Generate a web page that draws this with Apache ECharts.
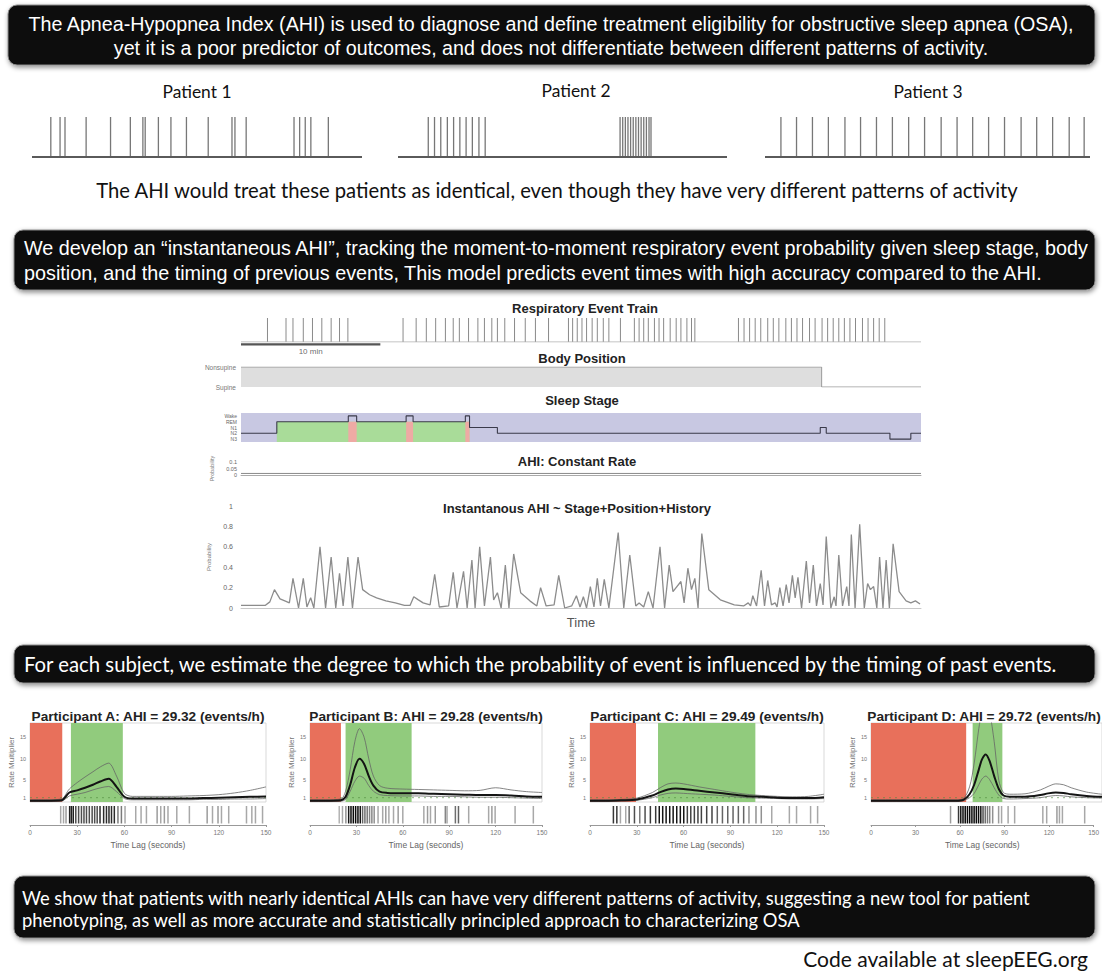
<!DOCTYPE html>
<html><head><meta charset="utf-8">
<script src="https://cdn.jsdelivr.net/npm/echarts@6/dist/echarts.min.js"></script>
<style>html,body{margin:0;padding:0;background:#fff}#c{width:1102px;height:971px}</style>
</head><body><div id="c"></div>
<script>
// ---------------- DATA ----------------
const patientNames = ['Patient 1','Patient 2','Patient 3'];
const patient1Events = [5.7,8.5,10,16.4,23.8,29.8,33.6,34.3,38.3,42.1,46.8,53.4,60.6,61.5,64.9,79.4,81.1,82.8,84.5,89.8];
const patient2Events = [9.2,11.1,13.0,15.0,16.9,18.8,20.7,22.6,24.6,26.5,67.5,68.3,69.1,69.9,70.7,71.5,72.3,73.1,73.9,74.7,75.5,76.3,76.9];
const patient3Events = [4.9,9.7,14.6,19.5,24.6,29.4,34.3,39.2,44.2,49.1,54.2,59.1,63.9,68.8,73.7,78.8,83.6,88.5,93.6,98.2];

const trainEvents = [1.9,3.23,3.73,4.47,5.13,5.8,6.47,7.07,7.67,
 11.63,12.57,13.3,13.97,14.67,15.23,15.67,16.33,17.0,17.47,18.0,18.4,18.93,19.63,20.4,21.13,22.07,23.5,23.8,24.13,24.47,24.8,25.2,25.57,26.0,26.4,27.23,28.23,28.57,28.9,29.23,29.67,30.0,30.33,30.8,31.23,31.57,32.0,32.33,32.57,
 35.7,36.1,36.5,36.9,37.3,37.8,38.2,38.6,39.1,39.5,39.9,40.3,40.8,41.2,41.7,42.1,42.5,42.9,43.3,43.7,44.1,44.6,45.0,45.4,45.8,46.2];
const scaleBar = [[0,-0.1],[10,-0.1]];
const scaleBarLabel = '10 min';

const positionLabels = ['Supine','Nonsupine'];
const bodyPosition = [[0,1],[41.67,1],[41.67,0],[48.8,0]];

const stageLabels = ['N3','N2','N1','REM','Wake'];
const hypnogram = [[0,1],[2.57,3],[7.7,4],[8.3,3],[11.85,4],[12.35,3],[16.1,4],[16.4,2],[18.4,1],[41.57,2],[42.0,1],[46.57,0],[48.07,1],[48.8,1]];
// [start, end, top stage, kind 0=REM 1=Wake]
const sleepRegions = [[2.57,16.4,3,0],[7.7,8.3,3,1],[11.85,12.35,3,1],[16.1,16.4,3,1]];

const constantRate = [[0,0.012],[48.8,0.012]];

const instAHI = [
[0,0.025],[1.73,0.025],[2.07,0.06],[2.4,0.18],[2.8,0.09],[3.23,0.065],[3.47,0.05],[3.73,0.29],[4.13,0.0],[4.47,0.29],[4.73,0.01],[5.0,0.1],[5.23,0.0],[5.67,0.6],[6.07,0.0],[6.47,0.5],[6.8,0.0],[7.07,0.34],[7.33,0.02],[7.67,0.5],[8.0,0.0],[8.4,0.5],[8.73,0.18],[9.23,0.13],[9.73,0.1],[10.4,0.07],[11.07,0.05],[11.73,0.025],[12.13,0.025],
[12.4,0.11],[12.73,0.08],[13.07,0.05],[13.57,0.03],[13.9,0.33],[14.23,0.01],[14.9,0.02],[15.23,0.35],[15.5,0.0],[15.97,0.36],[16.23,0.0],[16.57,0.47],[16.8,0.0],[17.13,0.6],[17.47,0.02],[17.9,0.5],[18.13,0.08],[18.4,0.15],[18.67,0.0],[18.97,0.42],[19.23,0.0],[19.57,0.53],[20.07,0.15],[20.73,0.07],[21.23,0.02],[21.5,0.2],[21.9,0.02],[22.47,0.03],[22.8,0.32],[23.23,0.0],[23.73,0.02],[24.07,0.12],[24.33,0.01],[24.57,0.11],[24.8,0.0],[25.07,0.21],[25.33,0.01],[25.57,0.29],[25.8,0.02],[26.07,0.28],[26.4,0.0],[27.07,0.74],[27.47,0.0],[27.9,0.52],[28.33,0.02],[28.57,0.05],[28.9,0.01],[29.23,0.16],[29.57,0.0],[30.07,0.6],[30.4,0.0],[30.73,0.42],[31.0,0.16],[31.57,0.26],[31.8,0.05],[32.07,0.39],[32.33,0.18],[32.57,0.29],[32.8,0.0],[33.07,0.73],[33.57,0.18],[34.4,0.08],[35.4,0.03],[36.07,0.02],
[36.4,0.05],[36.57,0.02],[36.73,0.12],[37.0,0.02],[37.33,0.37],[37.57,0.02],[37.8,0.27],[38.07,0.03],[38.33,0.05],[38.47,0.01],[38.67,0.2],[38.9,0.02],[39.13,0.23],[39.33,0.05],[39.57,0.32],[39.77,0.1],[39.97,0.3],[40.23,0.0],[40.57,0.46],[40.8,0.05],[41.07,0.42],[41.3,0.02],[41.57,0.24],[41.77,0.03],[42.0,0.7],[42.33,0.0],[42.57,0.11],[42.7,0.02],[42.9,0.52],[43.17,0.02],[43.47,0.21],[43.63,0.02],[43.8,0.72],[44.07,0.0],[44.4,0.82],[44.73,0.0],[44.97,0.24],[45.17,0.18],[45.4,0.21],[45.63,0.0],[45.83,0.5],[46.07,0.0],[46.3,0.47],[46.53,0.0],[46.8,0.63],[47.23,0.16],[47.73,0.07],[48.07,0.05],[48.4,0.07],[48.73,0.04]];

const participantNames = ['A','B','C','D'];
const participantAHI = ['29.32','29.28','29.49','29.72'];
const lagTicks = [0,30,60,90,120,150];
const rateTicks = [0,1,5,10,15];

const lagsA  = [0,10,20,25,30,35,40,45,50,55,60,65,70,80,90,100,110,120,130,140,150];
const meanA  = [0.3,0.3,0.4,2.2,2.7,3.3,4.0,4.8,5.4,3.5,1.2,0.8,0.8,0.8,0.8,0.8,0.9,1.0,1.1,1.2,1.3];
const upperA = [0.5,0.5,0.7,3.0,4.5,5.8,7.0,8.2,9.0,6.0,2.0,1.3,1.3,1.3,1.3,1.4,1.5,1.7,2.1,2.7,3.5];
const lowerA = [0.1,0.1,0.2,1.4,1.8,2.2,2.8,3.3,3.6,2.4,0.8,0.5,0.5,0.5,0.5,0.5,0.6,0.6,0.7,0.7,0.8];
const regionsA = [[0,20.5,0],[26,59,1]];
const rasterA = [[19.5,0.3],[21.3,0.3],[22.9,0.35],[25.2,0.9],[26.3,0.9],[27.5,0.9],[29.1,0.7],[30.9,0.7],[32.7,0.7],[34.3,0.7],[35.9,0.7],[37.7,0.7],[39.5,0.7],[41.1,0.7],[42.7,0.7],[44.5,0.85],[46.8,0.85],[48.6,0.85],[50.2,0.85],[51.8,0.85],[53.6,0.85],[55.9,0.5],[58.1,0.5],[60.4,0.3],[67.2,0.3],[70.6,0.3],[74.0,0.3],[80.8,0.35],[83.1,0.3],[85.4,0.35],[87.7,0.3],[93.3,0.3],[101.3,0.3],[112.6,0.35],[116.0,0.3],[119.5,0.35],[121.7,0.3],[126.3,0.3],[137.6,0.3],[141.0,0.3],[143.3,0.3],[147.8,0.3]];

const lagsB  = [0,10,20,23,26,29,32,35,38,41,45,50,60,70,80,90,100,110,120,130,140,150];
const meanB  = [0.3,0.3,0.4,1.2,4.0,8.0,10.0,8.8,6.0,3.8,2.4,2.1,2.0,2.0,1.9,1.8,1.7,1.6,1.6,1.5,1.3,1.2];
const upperB = [0.5,0.5,0.7,2.5,7.5,14.0,17.0,15.0,10.0,6.0,3.8,3.2,3.0,2.9,2.8,2.7,2.6,2.7,3.3,2.8,2.4,2.2];
const lowerB = [0.1,0.1,0.2,0.6,2.5,4.8,6.0,5.5,3.8,2.5,1.7,1.5,1.4,1.4,1.3,1.3,1.2,1.1,1.1,1.0,0.9,0.8];
const regionsB = [[0,20,0],[23,65.7,1]];
const rasterB = [[18.9,0.25],[21.0,0.3],[23.2,0.4],[25,0.95],[26.5,1],[28,1],[29.5,1],[31,1],[32.5,0.95],[34,0.6],[35.5,0.55],[37,0.5],[38.5,0.45],[40,0.45],[41.5,0.4],[44,0.3],[47,0.3],[49,0.35],[51,0.3],[54,0.3],[57,0.35],[60,0.3],[73.6,0.3],[76,0.35],[77.9,0.3],[81,0.35],[87.5,0.45],[88.6,0.3],[94,0.55],[96,0.6],[102.6,0.3],[115.5,0.3],[117.6,0.35],[119.7,0.3],[132.6,0.3],[144.4,0.3]];

const lagsC  = [0,10,20,30,40,45,50,55,60,70,80,90,100,110,120,130,140,150];
const meanC  = [0.3,0.3,0.4,0.6,1.5,2.3,2.9,3.1,3.0,2.6,2.2,1.8,1.4,1.2,1.0,0.9,0.9,1.1];
const upperC = [0.5,0.5,0.6,0.9,2.2,3.3,4.2,4.4,4.2,3.5,2.9,2.3,1.8,1.5,1.3,1.2,1.3,1.8];
const lowerC = [0.1,0.1,0.2,0.4,1.0,1.6,2.0,2.1,2.0,1.8,1.6,1.3,1.0,0.9,0.8,0.7,0.7,0.8];
const regionsC = [[0,29.5,0],[43.6,106,1]];
const rasterC = [[15.0,0.8],[17.2,0.8],[19.5,0.3],[22.9,0.3],[25.1,0.6],[28.5,0.7],[31.9,0.5],[35.3,0.7],[38.7,0.8],[42.1,0.8],[44.4,0.95],[46.6,0.95],[48.8,0.95],[51.1,0.95],[53.3,0.95],[55.6,0.95],[57.9,0.95],[60.1,0.95],[62.4,0.75],[64.6,0.75],[66.9,0.75],[69.2,0.75],[71.4,0.75],[74.8,0.75],[78.2,0.75],[81.6,0.6],[84.9,0.6],[88.3,0.6],[91.7,0.6],[95.1,0.6],[98.5,0.6],[101.9,0.4],[106.4,0.4],[109.8,0.4],[116.5,0.3],[127.8,0.3],[132.4,0.3],[141.4,0.3],[145.9,0.3]];

const lagsD  = [0,30,55,60,64,67,70,72,74.5,77,80,83,86,90,100,110,115,120,125,130,140,150];
const meanD  = [0.3,0.3,0.3,0.5,1.8,4.0,7.5,9.8,11.0,9.5,6.0,3.0,1.5,1.2,1.2,1.6,2.0,2.2,2.1,1.8,1.4,1.2];
const upperD = [0.5,0.5,0.5,0.8,3.5,9.0,17.0,21.0,24.0,21.0,14.0,5.0,2.2,1.8,1.9,2.8,3.6,4.2,4.0,3.3,2.3,1.8];
const lowerD = [0.1,0.1,0.1,0.3,1.0,2.0,4.0,5.3,6.0,5.2,3.3,1.6,0.8,0.7,0.8,1.0,1.3,1.5,1.4,1.2,1.0,0.9];
const regionsD = [[0,61.8,0],[66,85.3,1]];
const rasterD = [[53.6,0.35],[59,0.8],[60.5,0.95],[62,1],[63.5,1],[65,1],[66.5,1],[68,1],[69.5,1],[71,1],[72.5,1],[74,0.95],[75.5,0.7],[77,0.55],[78.5,0.5],[80,0.45],[82,0.4],[86,0.35],[88,0.3],[92.4,0.3],[96.8,0.3],[115.8,0.3],[118.4,0.3],[125.3,0.35],[127,0.3],[129,0.3],[144,0.3]];

const banner1 = ['The Apnea-Hypopnea Index (AHI) is used to diagnose and define treatment eligibility for obstructive sleep apnea (OSA),',
                 'yet it is a poor predictor of outcomes, and does not differentiate between different patterns of activity.'];
const caption1 = 'The AHI would treat these patients as identical, even though they have very different patterns of activity';
const banner2 = ['We develop an \u201cinstantaneous AHI\u201d, tracking the moment-to-moment respiratory event probability given sleep stage, body',
                 'position, and the timing of previous events, This model predicts event times with high accuracy compared to the AHI.'];
const banner3 = 'For each subject, we estimate the degree to which the probability of event is influenced by the timing of past events.';
const banner4 = ['We show that patients with nearly identical AHIs can have very different patterns of activity, suggesting a new tool for patient',
                 'phenotyping, as well as more accurate and statistically principled approach to characterizing OSA'];
const footer = 'Code available at sleepEEG.org';
const panelTitles = ['Respiratory Event Train','Body Position','Sleep Stage','AHI: Constant Rate','Instantanous AHI ~ Stage+Position+History'];

// ---------------- LAYOUT / BUILD ----------------
const ARIAL = '"Liberation Sans", Arial, Helvetica, sans-serif';
const CAL = 'Lato, "Open Sans", sans-serif';
const mctx = document.createElement('canvas').getContext('2d');
function fit(text, family, weight, width){ mctx.font = weight + ' 100px ' + family; return +(100*width/mctx.measureText(text).width).toFixed(2); }

const grids=[], xAxes=[], yAxes=[], series=[];
function addGrid(g, x, y){ const i=grids.length; grids.push(g); x.gridIndex=i; y.gridIndex=i; xAxes.push(x); yAxes.push(y); return i; }
function ticksSeries(i, data, color, width, y0){
  return {type:'custom', xAxisIndex:i, yAxisIndex:i, data:data.map(v=>Array.isArray(v)?v:[v]), silent:true, z:3,
    renderItem:(p,api)=>{ const x=api.value(0); const a=api.coord([x,y0||0]), b=api.coord([x,1]);
      let c=color; if(!c){ const w=api.value(1); const g=Math.round(235-225*w); c='rgb('+g+','+g+','+g+')'; }
      return {type:'line', shape:{x1:a[0],y1:a[1],x2:b[0],y2:b[1]}, style:{stroke:c, lineWidth:width}}; }};
}
const hidX = (min,max)=>({type:'value',min,max,show:false});
const hidY = (min,max)=>({type:'value',min,max,show:false});

// Patients
const patientEvents=[patient1Events,patient2Events,patient3Events];
const patientBoxes=[[32,330],[398,329],[765,325]];
patientEvents.forEach((ev,k)=>{
  const i=addGrid({left:patientBoxes[k][0],top:117,width:patientBoxes[k][1],height:40}, hidX(0,100), hidY(0,1));
  series.push({type:'line',xAxisIndex:i,yAxisIndex:i,data:[[0,0],[100,0]],symbol:'none',silent:true,lineStyle:{color:'#5a5a5a',width:2.2},z:4});
  series.push(ticksSeries(i,ev,'#777777',1.3));
});

// Event train
const XMAX=48.8, PL=241, PW=680;
let i=addGrid({left:PL,top:318,width:PW,height:24}, hidX(0,XMAX), hidY(0,1));
series.push({type:'line',xAxisIndex:i,yAxisIndex:i,data:[[0,0],[XMAX,0]],symbol:'none',silent:true,lineStyle:{color:'#b0b0b0',width:1}});
series.push(ticksSeries(i,trainEvents,'#8a8a8a',1));
series.push({type:'line',xAxisIndex:i,yAxisIndex:i,data:scaleBar,symbol:'none',silent:true,clip:false,lineStyle:{color:'#555',width:2.2},z:5});
series.push({type:'scatter',xAxisIndex:i,yAxisIndex:i,data:[[(scaleBar[0][0]+scaleBar[1][0])/2,scaleBar[0][1]]],symbolSize:0,clip:false,silent:true,
  label:{show:true,position:'bottom',distance:3,formatter:scaleBarLabel,fontSize:8,color:'#444',fontFamily:ARIAL}});

// Body position
i=addGrid({left:PL,top:367,width:PW,height:20}, hidX(0,XMAX),
  {type:'value',min:0,max:1,interval:1,axisLine:{show:false},axisTick:{show:false},splitLine:{show:false},
   axisLabel:{fontSize:6.5,color:'#777',margin:5,fontFamily:ARIAL,formatter:v=>positionLabels[v]||''}});
series.push({type:'line',xAxisIndex:i,yAxisIndex:i,data:bodyPosition,symbol:'none',silent:true,
  lineStyle:{color:'#9a9a9a',width:1},areaStyle:{color:'#dedede',opacity:1,origin:'start'}});

// Sleep stage
i=addGrid({left:PL,top:413,width:PW,height:29,show:true,backgroundColor:'#c8c8e2',borderWidth:0}, hidX(0,XMAX),
  {type:'category',data:stageLabels,boundaryGap:true,axisLine:{show:false},axisTick:{show:false},splitLine:{show:false},
   axisLabel:{fontSize:5,color:'#666',margin:4,fontFamily:ARIAL,interval:0,hideOverlap:false}});
series.push({type:'custom',xAxisIndex:i,yAxisIndex:i,data:sleepRegions,silent:true,z:1,
  renderItem:(p,api)=>{ const a=api.coord([api.value(0),api.value(2)]), b=api.coord([api.value(1),api.value(2)]);
    const bottom=p.coordSys.y+p.coordSys.height;
    return {type:'rect',shape:{x:a[0],y:a[1],width:b[0]-a[0],height:bottom-a[1]},style:{fill:api.value(3)===0?'#a9dc99':'#eeaaa4'}}; }});
series.push({type:'line',xAxisIndex:i,yAxisIndex:i,data:hypnogram,step:'start',symbol:'none',silent:true,z:3,lineStyle:{color:'#3a3a4a',width:1.1}});

// AHI constant rate
i=addGrid({left:PL,top:462,width:PW,height:13}, {type:'value',min:0,max:XMAX,axisLine:{show:true,lineStyle:{color:'#aaa'}},axisTick:{show:false},axisLabel:{show:false},splitLine:{show:false}},
  {type:'value',min:0,max:0.1,interval:0.05,axisLine:{show:false},axisTick:{show:false},splitLine:{show:false},
   name:'Probability',nameLocation:'middle',nameRotate:90,nameGap:20,nameTextStyle:{fontSize:5.5,color:'#777',fontFamily:ARIAL},
   axisLabel:{fontSize:5.5,color:'#666',margin:4,fontFamily:ARIAL,hideOverlap:false}});
series.push({type:'line',xAxisIndex:i,yAxisIndex:i,data:constantRate,symbol:'none',silent:true,lineStyle:{color:'#8a8a8a',width:1}});

// Instantaneous AHI
i=addGrid({left:PL,top:506,width:PW,height:102},
  {type:'value',min:0,max:XMAX,axisLine:{show:true,lineStyle:{color:'#c8c8c8'}},axisTick:{show:false},axisLabel:{show:false},splitLine:{show:false},
   name:'Time',nameLocation:'middle',nameGap:8,nameTextStyle:{fontSize:13,color:'#555',fontFamily:ARIAL}},
  {type:'value',min:0,max:1,interval:0.2,axisLine:{show:false},axisTick:{show:false},splitLine:{show:false},
   name:'Probability',nameLocation:'middle',nameRotate:90,nameGap:26,nameTextStyle:{fontSize:6,color:'#777',fontFamily:ARIAL},
   axisLabel:{fontSize:7,color:'#666',margin:8,fontFamily:ARIAL}});
series.push({type:'line',xAxisIndex:i,yAxisIndex:i,data:instAHI,symbol:'none',silent:true,lineStyle:{color:'#8c8c8c',width:1.3}});

// Participants
const pLags=[lagsA,lagsB,lagsC,lagsD], pMean=[meanA,meanB,meanC,meanD], pUp=[upperA,upperB,upperC,upperD], pLo=[lowerA,lowerB,lowerC,lowerD];
const pReg=[regionsA,regionsB,regionsC,regionsD], pRas=[rasterA,rasterB,rasterC,rasterD];
const pBoxes=[[30,236],[310,232],[590,234],[871,232]];
const RMAX=18.3;
const zip=(xs,ys)=>xs.map((x,k)=>[x,ys[k]]);
participantNames.forEach((nm,k)=>{
  const [L,W]=pBoxes[k];
  let g=addGrid({left:L,top:723,width:W,height:79,show:true,borderColor:'#cfcfcf',borderWidth:0.8}, hidX(0,150),
    {type:'value',min:0,max:RMAX,axisLine:{show:false},axisTick:{show:false},splitLine:{show:false},
     name:'Rate Multiplier',nameLocation:'middle',nameRotate:90,nameGap:15,nameTextStyle:{fontSize:8,color:'#777',fontFamily:ARIAL},
     axisLabel:{fontSize:5.5,color:'#777',margin:4,fontFamily:ARIAL,customValues:rateTicks,hideOverlap:false}});
  series.push({type:'custom',xAxisIndex:g,yAxisIndex:g,data:pReg[k],silent:true,z:1,
    renderItem:(p,api)=>{ const a=api.coord([api.value(0),RMAX]), b=api.coord([api.value(1),0]);
      return {type:'rect',shape:{x:a[0],y:a[1],width:b[0]-a[0],height:b[1]-a[1]},style:{fill:api.value(2)===0?'#e8705b':'#91cb7d'}}; }});
  series.push({type:'line',xAxisIndex:g,yAxisIndex:g,data:[[0,1],[150,1]],symbol:'none',silent:true,z:2,lineStyle:{color:'#4f8a3e',width:0.9,type:[2,4],opacity:0.7}});
  series.push({type:'line',xAxisIndex:g,yAxisIndex:g,data:zip(pLags[k],pUp[k]),symbol:'none',smooth:0.3,silent:true,z:3,lineStyle:{color:'#666',width:0.8}});
  series.push({type:'line',xAxisIndex:g,yAxisIndex:g,data:zip(pLags[k],pLo[k]),symbol:'none',smooth:0.3,silent:true,z:3,lineStyle:{color:'#666',width:0.8}});
  series.push({type:'line',xAxisIndex:g,yAxisIndex:g,data:zip(pLags[k],pMean[k]),symbol:'none',smooth:0.3,silent:true,z:4,lineStyle:{color:'#141414',width:2}});
  let r=addGrid({left:L,top:806,width:W,height:19},
    {type:'value',min:0,max:150,interval:30,axisLine:{show:true,lineStyle:{color:'#999',width:1}},axisTick:{show:true,length:2,lineStyle:{color:'#999'}},splitLine:{show:false},
     axisLabel:{fontSize:6.5,color:'#777',margin:4,fontFamily:ARIAL},
     name:'Time Lag (seconds)',nameLocation:'middle',nameGap:15,nameTextStyle:{fontSize:8.5,color:'#666',fontFamily:ARIAL}},
    hidY(0,1));
  series.push(ticksSeries(r,pRas[k],null,1.5,0.08));
});

// ---------------- GRAPHICS (banners & titles) ----------------
const gr=[];
function banner(x,y,w,h){ gr.push({type:'rect',silent:true,shape:{x,y,width:w,height:h,r:9},
  style:{fill:'#0d0d0d',stroke:'#8c8c8c',lineWidth:1,shadowBlur:5,shadowOffsetX:1,shadowOffsetY:2,shadowColor:'rgba(0,0,0,0.45)'}}); }
function txt(text,x,y,size,family,weight,color,align){ gr.push({type:'text',silent:true,x,y,
  style:{text,fontSize:size,fontFamily:family,fontWeight:weight,fill:color,align:align||'center',verticalAlign:'middle',textAlign:align||'center',textVerticalAlign:'middle'}}); }

banner(8,5,1087,60);
const s1=fit(banner1[0],ARIAL,'normal',1047);
txt(banner1[0],551,24,s1,ARIAL,'normal','#fff');
txt(banner1[1],551,48,s1,ARIAL,'normal','#fff');

const sP=fit(patientNames[0],CAL,'normal',69);
txt(patientNames[0],197,91,sP,CAL,'normal','#111');
txt(patientNames[1],576,90,sP,CAL,'normal','#111');
txt(patientNames[2],928,91,sP,CAL,'normal','#111');
txt(caption1,557,190,fit(caption1,CAL,'normal',925),CAL,'normal','#111');

banner(14,230,1081,60);
const s2=fit(banner2[0],ARIAL,'normal',1066);
txt(banner2[0],24,248,s2,ARIAL,'normal','#fff','left');
txt(banner2[1],24,273,s2,ARIAL,'normal','#fff','left');

const tS=13;
txt(panelTitles[0],585,308,tS,ARIAL,'bold','#222');
txt(panelTitles[1],582,358,tS,ARIAL,'bold','#222');
txt(panelTitles[2],582,400,tS,ARIAL,'bold','#222');
txt(panelTitles[3],577,461,tS,ARIAL,'bold','#222');
txt(panelTitles[4],577,508,tS,ARIAL,'bold','#222');

banner(14,645,1081,38);
txt(banner3,24,664,fit(banner3,CAL,'normal',1036),CAL,'normal','#fff','left');

const sT=fit('Participant A: AHI = 29.32 (events/h)',ARIAL,'bold',234);
const titleCenters=[148,426,707,984];
participantNames.forEach((nm,k)=>{
  txt('Participant '+nm+': AHI = '+participantAHI[k]+' (events/h)',titleCenters[k],716,sT,ARIAL,'bold','#222'); });

banner(14,876,1081,62);
const s4=fit(banner4[0],CAL,'normal',1012);
txt(banner4[0],22,898,s4,CAL,'normal','#fff','left');
txt(banner4[1],22,920,s4,CAL,'normal','#fff','left');
txt(footer,1088,958,fit(footer,CAL,'normal',285),CAL,'normal','#111','right');

const chart=echarts.init(document.getElementById('c'),null,{renderer:'svg',width:1102,height:971});
chart.setOption({backgroundColor:'#ffffff',animation:false,grid:grids,xAxis:xAxes,yAxis:yAxes,series,graphic:{elements:gr}});
</script></body></html>
